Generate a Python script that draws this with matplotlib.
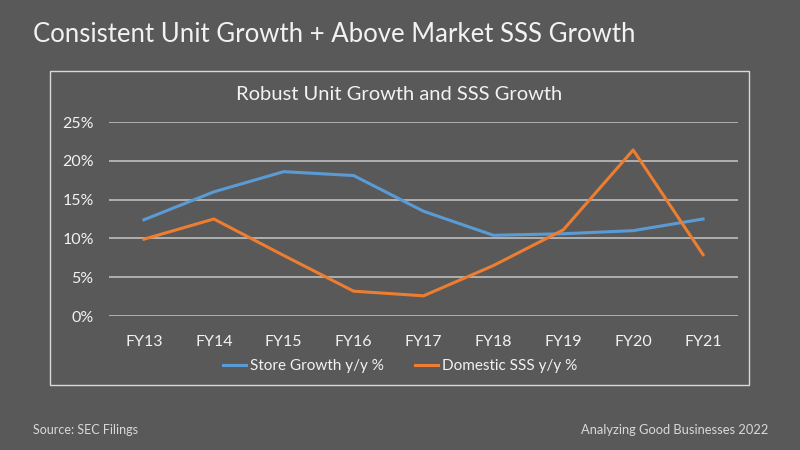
import matplotlib.pyplot as plt
from matplotlib.patches import Rectangle
from matplotlib.lines import Line2D

years = ['FY13', 'FY14', 'FY15', 'FY16', 'FY17', 'FY18', 'FY19', 'FY20', 'FY21']
store_growth = [12.4, 16.0, 18.6, 18.1, 13.5, 10.4, 10.6, 11.0, 12.5]
domestic_sss = [9.9, 12.5, 7.8, 3.2, 2.6, 6.5, 11.1, 21.4, 7.9]
y_ticks = [0, 5, 10, 15, 20, 25]

bg = '#595959'
txt = '#f2f2f2'
blue = '#5b9bd5'
orange = '#ed7d31'

plt.rcParams['font.family'] = ['Lato', 'DejaVu Sans']

fig = plt.figure(figsize=(8, 4.5), dpi=100)
fig.patch.set_facecolor(bg)

# outer title and footer
fig.text(33 / 800, 1 - 35 / 450, 'Consistent Unit Growth + Above Market SSS Growth',
         color=txt, fontsize=18.5, va='center', ha='left')
fig.text(33 / 800, 1 - 430 / 450, 'Source: SEC Filings', color='#d9d9d9',
         fontsize=9, va='center', ha='left')
fig.text(768 / 800, 1 - 430 / 450, 'Analyzing Good Businesses 2022', color='#d9d9d9',
         fontsize=9.3, va='center', ha='right')

# chart frame
fig.patches.append(Rectangle((50 / 800, 1 - 385 / 450), 699 / 800, 314 / 450,
                             transform=fig.transFigure, fill=False,
                             edgecolor='#d9d9d9', linewidth=1))
fig.text(399 / 800, 1 - 95 / 450, 'Robust Unit Growth and SSS Growth',
         color=txt, fontsize=14.5, va='center', ha='center')

ax = fig.add_axes([109 / 800, 1 - 316 / 450, 629 / 800, 194 / 450])
ax.set_facecolor(bg)
x = range(len(years))
ax.plot(x, store_growth, color=blue, linewidth=2.2, label='Store Growth y/y %')
ax.plot(x, domestic_sss, color=orange, linewidth=2.2, label='Domestic SSS y/y %')

ax.set_xlim(-0.5, len(years) - 0.5)
ax.set_ylim(0, 25)
ax.set_yticks(y_ticks)
ax.set_yticklabels([f'{t}%' for t in y_ticks])
ax.set_xticks(list(x))
ax.set_xticklabels(years)
ax.yaxis.grid(True, color='#bfbfbf', linewidth=1.2)
ax.set_axisbelow(True)
for s in ax.spines.values():
    s.set_visible(False)
ax.tick_params(length=0, colors=txt, labelsize=11.5)
ax.tick_params(axis='x', pad=14)
ax.tick_params(axis='y', pad=11)

handles = [Line2D([], [], color=blue, linewidth=2.2),
           Line2D([], [], color=orange, linewidth=2.2)]
fig.legend(handles, ['Store Growth y/y %', 'Domestic SSS y/y %'],
           loc='center', bbox_to_anchor=(400 / 800, 1 - 366 / 450), ncol=2,
           frameon=False, fontsize=11, labelcolor=txt, handlelength=1.5,
           handletextpad=0.3, columnspacing=2.0)

fig.savefig('out.png', dpi=100, facecolor=bg)
